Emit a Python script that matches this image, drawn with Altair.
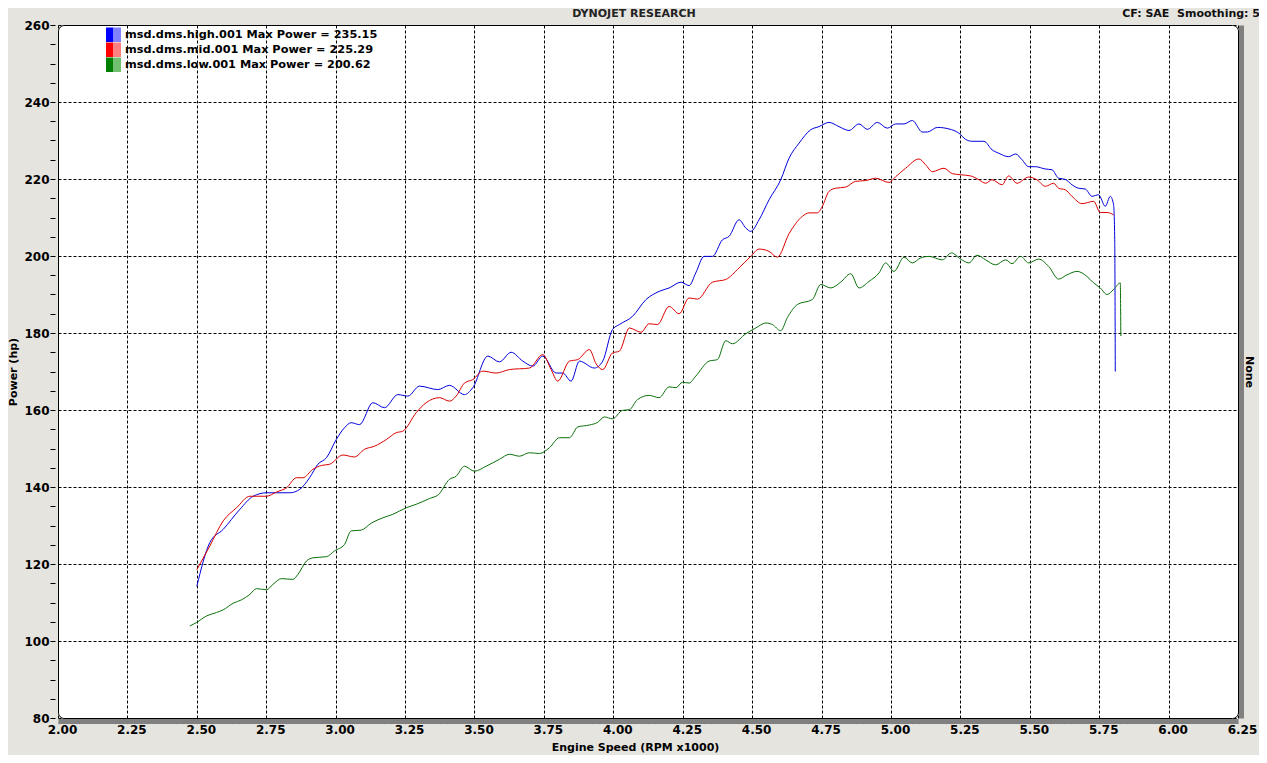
import altair as alt
import pandas as pd

# ---------------- data ----------------
series_names = ["msd.dms.high.001", "msd.dms.mid.001", "msd.dms.low.001"]
max_power = ["235.15", "225.29", "200.62"]

high_rpm = [2.50, 2.547, 2.595, 2.655, 2.703, 2.751, 2.835, 2.871, 2.906, 2.936, 2.967, 3.002, 3.032,
            3.056, 3.086, 3.134, 3.176, 3.224, 3.260, 3.302, 3.368, 3.410, 3.464, 3.494, 3.548, 3.590,
            3.632, 3.674, 3.710, 3.746, 3.794, 3.818, 3.848, 3.878, 3.932, 3.962, 3.997, 4.022, 4.069,
            4.118, 4.165, 4.201, 4.244, 4.273, 4.297, 4.327, 4.357, 4.393, 4.417, 4.453, 4.477, 4.495,
            4.525, 4.561, 4.603, 4.633, 4.669, 4.711, 4.741, 4.777, 4.813, 4.849, 4.885, 4.915, 4.951,
            4.987, 5.017, 5.047, 5.077, 5.113, 5.131, 5.167, 5.209, 5.245, 5.269, 5.292, 5.335, 5.364,
            5.388, 5.424, 5.449, 5.472, 5.496, 5.520, 5.556, 5.580, 5.604, 5.628, 5.652, 5.676, 5.700,
            5.724, 5.748, 5.772, 5.790, 5.802, 5.806, 5.808]
high_hp = [114.2, 125.6, 129.0, 134.2, 137.6, 138.5, 138.5, 139.4, 142.4, 145.9, 147.6, 152.3, 155.4,
           156.7, 156.2, 161.9, 160.6, 164.0, 163.6, 166.2, 165.3, 166.4, 164.0, 165.8, 174.0, 172.5,
           175.0, 172.7, 171.4, 174.0, 169.6, 169.6, 167.5, 172.7, 170.9, 172.7, 180.9, 182.2, 184.3,
           188.7, 190.8, 191.7, 193.2, 192.3, 195.6, 199.9, 199.9, 204.2, 205.1, 209.4, 207.3, 206.4,
           209.4, 214.6, 219.8, 225.4, 229.3, 232.8, 233.6, 234.7, 233.6, 232.6, 234.3, 232.9, 234.7,
           233.2, 234.3, 234.3, 235.2, 232.2, 232.2, 233.4, 233.0, 231.9, 230.3, 229.8, 229.8, 227.6,
           226.7, 225.8, 226.5, 225.0, 223.2, 223.2, 222.6, 222.4, 220.2, 219.9, 218.5, 217.6, 217.4,
           215.5, 215.9, 212.9, 215.5, 213.3, 204.2, 170.0]

mid_rpm = [2.50, 2.547, 2.595, 2.643, 2.691, 2.751, 2.787, 2.823, 2.859, 2.882, 2.918, 2.949, 2.978,
           3.026, 3.068, 3.104, 3.140, 3.182, 3.218, 3.242, 3.290, 3.326, 3.374, 3.410, 3.434, 3.464,
           3.494, 3.530, 3.578, 3.626, 3.698, 3.746, 3.776, 3.800, 3.842, 3.872, 3.914, 3.938, 3.962,
           3.997, 4.022, 4.058, 4.100, 4.129, 4.159, 4.201, 4.237, 4.273, 4.303, 4.357, 4.405, 4.453,
           4.495, 4.525, 4.561, 4.591, 4.633, 4.681, 4.705, 4.735, 4.753, 4.777, 4.801, 4.837, 4.873,
           4.909, 4.945, 4.993, 5.017, 5.053, 5.101, 5.125, 5.149, 5.191, 5.221, 5.251, 5.287, 5.317,
           5.341, 5.364, 5.400, 5.424, 5.454, 5.496, 5.526, 5.556, 5.586, 5.604, 5.628, 5.652, 5.688,
           5.730, 5.754, 5.778, 5.802]
mid_hp = [118.5, 124.7, 131.2, 134.6, 137.6, 137.6, 138.7, 139.8, 142.4, 142.4, 144.6, 145.6, 145.9,
          148.3, 147.8, 149.8, 150.6, 152.3, 154.1, 154.5, 159.3, 161.9, 163.2, 162.3, 163.6, 167.0,
          167.9, 170.1, 169.6, 170.5, 170.9, 174.4, 170.5, 167.5, 172.7, 173.1, 175.7, 172.0, 170.5,
          174.8, 175.3, 181.3, 180.2, 182.4, 182.2, 186.9, 185.0, 189.1, 188.8, 193.2, 193.9, 196.9,
          199.9, 201.8, 201.2, 199.7, 205.8, 210.3, 211.2, 211.2, 212.9, 216.8, 217.6, 217.9, 219.4,
          219.6, 220.2, 219.1, 220.6, 222.8, 225.2, 223.7, 221.9, 222.8, 221.4, 221.1, 220.8, 219.8,
          218.9, 219.8, 218.5, 220.8, 218.9, 220.5, 219.8, 218.1, 218.9, 217.6, 217.2, 215.5, 213.6,
          214.2, 211.3, 211.3, 210.7]

low_rpm = [2.475, 2.499, 2.535, 2.571, 2.595, 2.631, 2.661, 2.691, 2.715, 2.751, 2.774, 2.805, 2.846,
           2.864, 2.895, 2.918, 2.967, 2.996, 3.032, 3.056, 3.092, 3.128, 3.170, 3.206, 3.254, 3.290,
           3.338, 3.370, 3.410, 3.434, 3.464, 3.500, 3.542, 3.590, 3.626, 3.662, 3.698, 3.734, 3.770,
           3.806, 3.842, 3.872, 3.914, 3.944, 3.968, 3.997, 4.033, 4.058, 4.087, 4.129, 4.165, 4.201,
           4.226, 4.249, 4.273, 4.297, 4.345, 4.375, 4.405, 4.429, 4.477, 4.513, 4.549, 4.573, 4.603,
           4.627, 4.663, 4.717, 4.747, 4.783, 4.819, 4.855, 4.885, 4.921, 4.957, 4.981, 5.011, 5.047,
           5.077, 5.107, 5.137, 5.185, 5.218, 5.251, 5.281, 5.310, 5.341, 5.377, 5.413, 5.436, 5.467,
           5.496, 5.532, 5.568, 5.604, 5.634, 5.670, 5.706, 5.730, 5.754, 5.778, 5.802, 5.826, 5.828]
low_hp = [103.9, 104.8, 106.5, 107.4, 108.1, 109.8, 110.7, 112.1, 113.6, 113.3, 114.7, 116.2, 116.0,
          117.3, 120.8, 121.6, 121.9, 123.4, 125.1, 128.6, 128.8, 130.6, 132.0, 132.9, 134.6, 135.5,
          137.0, 138.0, 142.0, 142.8, 145.4, 144.1, 145.4, 147.2, 148.5, 148.0, 148.9, 148.7, 150.2,
          152.8, 152.8, 155.6, 156.1, 156.8, 158.2, 157.7, 159.9, 160.1, 162.7, 163.8, 163.2, 166.0,
          165.8, 167.2, 167.0, 168.8, 172.7, 173.1, 178.0, 177.2, 179.8, 181.3, 182.6, 182.2, 180.6,
          184.0, 187.4, 188.7, 192.6, 191.7, 193.2, 195.4, 191.7, 193.4, 195.6, 198.2, 196.0, 199.7,
          198.2, 199.5, 199.9, 199.0, 200.8, 199.2, 198.2, 200.2, 199.0, 197.7, 199.0, 198.0, 199.9,
          198.2, 199.2, 197.3, 194.0, 195.1, 196.0, 194.7, 193.0, 191.7, 190.0, 191.3, 193.0, 179.2]

y_ticks = list(range(80, 261, 5))
x_ticks = [round(2 + i * 0.025, 3) for i in range(171)]

# ---------------- styling ----------------
line_colors = ["#0000dd", "#dd0000", "#0a700a"]
box_dark = ["#0000ff", "#ff0000", "#008000"]
box_light = ["#8080ff", "#ff8080", "#70c070"]
FONT = "DejaVu Sans"

rows = []
for name, rr, hh in zip(series_names, [high_rpm, mid_rpm, low_rpm], [high_hp, mid_hp, low_hp]):
    for i, (r, h) in enumerate(zip(rr, hh)):
        rows.append({"run": name, "rpm": r, "hp": h, "idx": i})
df = pd.DataFrame(rows)

X_MAJOR = "abs(datum.value * 4 - round(datum.value * 4)) < 0.01"
Y_MAJOR = "datum.value % 20 === 0"

x_scale = alt.Scale(domain=[2, 6.25], nice=False, zero=False)
y_scale = alt.Scale(domain=[80, 260], nice=False, zero=False)

x_axis = alt.Axis(
    values=x_ticks, title="Engine Speed (RPM x1000)",
    labelExpr=f"{X_MAJOR} ? format(datum.value, '.2f') : ''",
    grid=True, gridColor="black", gridDash=[3, 2],
    gridOpacity={"condition": {"test": X_MAJOR, "value": 1}, "value": 0},
    ticks=True, tickSize=3, tickColor="#c8c8c8",
    domain=True, domainColor="#808080", domainWidth=5, offset=3,
    labelPadding=0, labelOffset=4, labelFlush=False, labelOverlap=False,
    titleX=577, titlePadding=6,
)
y_axis = alt.Axis(
    values=y_ticks, title="Power (hp)",
    labelExpr=f"{Y_MAJOR} ? datum.label : ''",
    grid=True, gridColor="black", gridDash=[3, 2],
    gridOpacity={"condition": {"test": Y_MAJOR, "value": 1}, "value": 0},
    ticks=True, tickSize=5, tickColor="black",
    domain=False, offset=3, labelPadding=1, labelFlush=False, labelOverlap=False,
    titlePadding=5,
)

lines = alt.Chart(df).mark_line(strokeWidth=1, clip=True, interpolate="monotone").encode(
    x=alt.X("rpm:Q", scale=x_scale, axis=x_axis),
    y=alt.Y("hp:Q", scale=y_scale, axis=y_axis),
    color=alt.Color("run:N", scale=alt.Scale(domain=series_names, range=line_colors), legend=None),
    order=alt.Order("idx:Q"),
)

right_axis = alt.Chart(df).mark_point(opacity=0).encode(
    x=alt.X("rpm:Q", scale=x_scale, axis=x_axis),
    y=alt.Y("hp:Q", scale=y_scale, axis=alt.Axis(
        orient="right", title="None", labels=False, ticks=False, grid=False,
        domain=True, domainColor="#808080", domainWidth=5, offset=3, titlePadding=2)),
)

leg = pd.DataFrame({"run": series_names, "maxp": max_power})
leg["label"] = leg["run"] + " Max Power = " + leg["maxp"]

layers = [lines, right_axis]
for i in range(len(series_names)):
    one = leg.iloc[[i]]
    top = 2.5 + 15 * i
    layers.append(alt.Chart(one).mark_rect(color=box_dark[i]).encode(
        x=alt.value(48), x2=alt.value(55.5), y=alt.value(top), y2=alt.value(top + 14.5)))
    layers.append(alt.Chart(one).mark_rect(color=box_light[i]).encode(
        x=alt.value(55.5), x2=alt.value(63), y=alt.value(top), y2=alt.value(top + 14.5)))
    layers.append(alt.Chart(one).mark_text(
        align="left", baseline="middle", font=FONT, fontSize=11.3, fontWeight="bold", color="black"
    ).encode(x=alt.value(67), y=alt.value(top + 7.5), text="label:N"))

head = pd.DataFrame({"t": ["DYNOJET RESEARCH"]})
cf = pd.DataFrame({"t": ["CF: SAE\u00a0 Smoothing: 5"]})
layers.append(alt.Chart(head).mark_text(
    align="center", baseline="middle", font=FONT, fontSize=11, fontWeight="bold", color="#222222"
).encode(x=alt.value(576), y=alt.value(-11), text="t:N"))
layers.append(alt.Chart(cf).mark_text(
    align="right", baseline="middle", font=FONT, fontSize=11, fontWeight="bold", color="#111111"
).encode(x=alt.value(1202), y=alt.value(-11), text="t:N"))

chart = alt.layer(*layers).resolve_axis(y="independent").properties(
    width=1180, height=693,
    padding={"left": 50, "top": 17, "right": 21, "bottom": 37},
    autosize=alt.AutoSizeParams(type="none"),
    background="#e6e4df",
).configure_view(
    fill="white", stroke="black", strokeWidth=1, cornerRadius=6
).configure_axis(
    labelFont=FONT, labelFontWeight="bold", labelFontSize=12, labelColor="black",
    titleFont=FONT, titleFontWeight="bold", titleFontSize=11, titleColor="black",
)

chart.save("out.html", embed_options={"renderer": "svg", "actions": False})
